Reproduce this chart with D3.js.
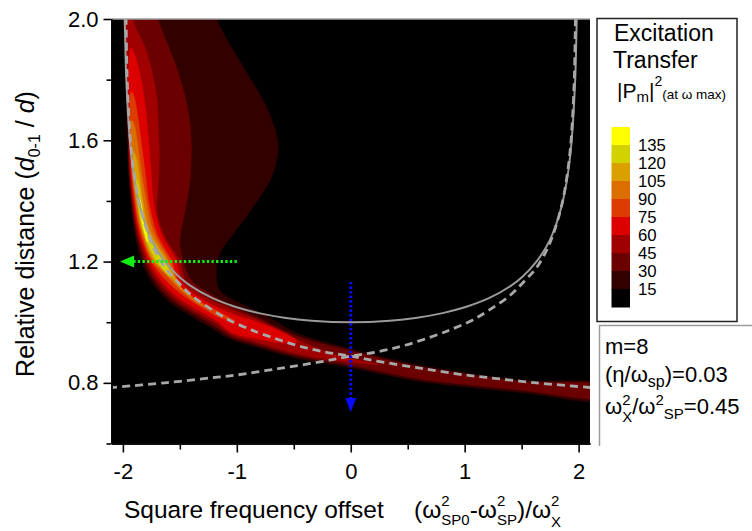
<!DOCTYPE html>
<html>
<head>
<meta charset="utf-8">
<script src="https://cdn.jsdelivr.net/npm/d3@7"></script>
<style>
  body { margin: 0; background: #fff; }
  svg { display: block; }
  text { font-family: "Liberation Sans", Arial, Helvetica, sans-serif; fill: #000; white-space: pre; }
</style>
</head>
<body>
<svg id="chart" width="752" height="531"></svg>
<script>
// ---------------- data ----------------
const xMajorTicks = [-2, -1, 0, 1, 2];
const xMinorTicks = [-1.5, -0.5, 0.5, 1.5];
const yMajorTicks = [0.8, 1.2, 1.6, 2.0];
const yMinorTicks = [0.6, 1.0, 1.4, 1.8];

// contour levels of |P_m|^2 and the fill of each band (first entry: below 15)
const levels = [15, 30, 45, 60, 75, 90, 105, 120, 135];
const bandColors = ["#000000", "#330000", "#6b0000", "#a00000", "#dc0000",
                    "#dc3c00", "#dc6e00", "#d9a000", "#d2d200", "#ffff00"];

// outlines of the regions where |P_m|^2 exceeds each level  [offset, d0-1/d]
const region15 = [
  [-2.00,2.10],[-1.995,2.00],[-1.985,1.90],[-1.975,1.80],[-1.966,1.70],[-1.958,1.60],
  [-1.950,1.50],[-1.930,1.40],[-1.897,1.30],[-1.835,1.20],[-1.74,1.13],[-1.60,1.07],
  [-1.42,1.025],[-1.24,0.985],[-1.06,0.945],[-0.89,0.925],[-0.46,0.88],[0,0.85],
  [0.6,0.805],[1.0,0.787],[1.5,0.768],[2.25,0.745],
  [2.25,0.79],[1.5,0.808],[1.0,0.833],[0.5,0.866],[0,0.912],[-0.46,0.962],[-0.74,1.02],
  [-0.975,1.063],[-1.15,1.105],[-1.18,1.16],[-1.151,1.226],[-1.034,1.29],[-0.859,1.38],
  [-0.683,1.49],[-0.639,1.59],[-0.741,1.71],[-0.946,1.843],[-1.18,2.00],[-1.26,2.10]
];
const region30 = [
  [-1.995,2.10],[-1.99,2.00],[-1.98,1.90],[-1.97,1.80],[-1.962,1.70],[-1.953,1.60],
  [-1.944,1.50],[-1.922,1.40],[-1.885,1.30],[-1.81,1.20],[-1.72,1.135],[-1.58,1.077],
  [-1.40,1.032],[-1.22,0.993],[-1.05,0.952],[-0.88,0.932],[-0.46,0.888],[0,0.858],
  [0.6,0.813],[1.0,0.795],[1.5,0.776],[2.25,0.753],
  [2.25,0.786],[1.5,0.804],[1.0,0.828],[0.5,0.86],[0,0.905],[-0.46,0.952],[-0.8,1.012],
  [-1.034,1.052],[-1.24,1.095],[-1.40,1.138],[-1.47,1.20],[-1.50,1.27],[-1.459,1.359],
  [-1.415,1.458],[-1.40,1.59],[-1.43,1.70],[-1.532,1.843],[-1.693,2.00],[-1.75,2.10]
];
const region45 = [
  [-1.99,2.10],[-1.985,2.00],[-1.975,1.90],[-1.966,1.80],[-1.957,1.70],[-1.948,1.60],
  [-1.938,1.50],[-1.914,1.40],[-1.873,1.30],[-1.79,1.20],[-1.70,1.14],[-1.56,1.083],
  [-1.38,1.038],[-1.20,1.0],[-1.04,0.958],[-0.87,0.939],[-0.46,0.895],[-0.1,0.872],
  [0.25,0.86],
  [-0.1,0.889],[-0.46,0.94],[-0.8,1.005],[-1.05,1.043],[-1.3,1.088],
  [-1.45,1.135],[-1.50,1.20],[-1.63,1.28],[-1.70,1.36],[-1.69,1.45],[-1.68,1.55],
  [-1.69,1.65],[-1.70,1.73],[-1.73,1.80],[-1.80,1.90],[-1.915,2.00],[-1.93,2.10]
];
const region60 = [
  [-1.93,1.905],[-1.947,1.85],[-1.95,1.78],[-1.949,1.70],[-1.943,1.60],[-1.932,1.50],
  [-1.905,1.40],[-1.862,1.30],[-1.77,1.20],[-1.68,1.145],[-1.54,1.09],[-1.36,1.045],
  [-1.18,1.006],[-1.04,0.965],[-0.8,0.944],[-0.6,0.932],[-0.47,0.937],
  [-0.6,0.968],[-0.8,0.998],[-1.06,1.03],[-1.3,1.075],[-1.48,1.13],[-1.53,1.20],
  [-1.66,1.29],[-1.725,1.38],[-1.75,1.48],[-1.77,1.58],[-1.80,1.70],[-1.84,1.80],[-1.89,1.875]
];
const region75 = [
  [-1.925,1.76],[-1.94,1.70],[-1.937,1.60],[-1.925,1.50],[-1.897,1.40],[-1.85,1.30],
  [-1.75,1.20],[-1.65,1.15],[-1.50,1.097],[-1.32,1.052],[-1.15,1.016],[-1.02,1.005],
  [-1.15,1.033],[-1.32,1.068],[-1.50,1.122],[-1.57,1.20],[-1.70,1.29],[-1.77,1.39],
  [-1.80,1.48],[-1.835,1.58],[-1.87,1.68],[-1.90,1.74]
];
const region90 = [
  [-1.922,1.665],[-1.93,1.60],[-1.918,1.50],[-1.888,1.40],[-1.838,1.30],[-1.735,1.20],
  [-1.62,1.155],[-1.48,1.103],[-1.33,1.06],[-1.22,1.045],
  [-1.35,1.068],[-1.50,1.118],[-1.59,1.20],[-1.735,1.30],[-1.795,1.40],[-1.84,1.50],
  [-1.875,1.60],[-1.90,1.65]
];
const region105 = [
  [-1.905,1.56],[-1.91,1.50],[-1.878,1.40],[-1.826,1.30],[-1.72,1.20],[-1.60,1.16],
  [-1.48,1.108],[-1.40,1.085],
  [-1.50,1.117],[-1.61,1.20],[-1.765,1.30],[-1.825,1.40],[-1.862,1.50],[-1.885,1.545]
];
const region120 = [
  [-1.878,1.47],[-1.868,1.40],[-1.82,1.30],[-1.70,1.20],[-1.58,1.15],
  [-1.63,1.20],[-1.785,1.30],[-1.842,1.40],[-1.862,1.45]
];
const region135 = [
  [-1.858,1.41],[-1.838,1.35],[-1.812,1.30],[-1.785,1.265],
  [-1.798,1.30],[-1.825,1.35],[-1.845,1.40]
];
const regions = [region15, region30, region45, region60, region75,
                 region90, region105, region120, region135];

// solid guide curve
const solidCurve = [
  [-1.990,2.05],[-1.984,2.00],[-1.97,1.80],[-1.939,1.60],[-1.91,1.50],[-1.862,1.40],
  [-1.781,1.30],[-1.718,1.25],[-1.63,1.20],[-1.507,1.15],[-1.405,1.12],[-1.217,1.08],
  [-1.008,1.05],[-0.806,1.03],[-0.584,1.015],[-0.343,1.005],[0,1.0],[0.343,1.005],
  [0.584,1.015],[0.806,1.03],[1.008,1.05],[1.217,1.08],[1.405,1.12],[1.507,1.15],
  [1.63,1.20],[1.718,1.25],[1.781,1.30],[1.862,1.40],[1.91,1.50],[1.939,1.60],
  [1.97,1.80],[1.984,2.00],[1.990,2.05]
];
// dashed guide curves
const dashedFalling = [
  [-1.975,2.05],[-1.972,2.00],[-1.962,1.80],[-1.934,1.60],[-1.905,1.50],[-1.86,1.40],
  [-1.795,1.31],[-1.735,1.25],[-1.635,1.182],[-1.53,1.138],[-1.40,1.089],[-1.21,1.039],
  [-1.063,1.006],[-0.887,0.977],[-0.77,0.96],[-0.477,0.924],[-0.243,0.903],[0,0.888],
  [0.255,0.87],[0.635,0.847],[1.0,0.826],[1.19,0.818],[1.63,0.80],[2.12,0.784]
];
const dashedRising = [
  [-2.12,0.784],[-1.63,0.80],[-1.19,0.818],[-1.0,0.826],[-0.635,0.847],[-0.255,0.87],
  [0,0.888],[0.243,0.903],[0.477,0.924],[0.77,0.96],[0.887,0.977],[1.063,1.006],
  [1.21,1.039],[1.40,1.089],[1.53,1.138],[1.635,1.182],[1.735,1.25],[1.795,1.31],
  [1.86,1.40],[1.905,1.50],[1.934,1.60],[1.962,1.80],[1.972,2.00],[1.975,2.05]
];

// dotted arrows: [start, tip]
const greenArrow = [[-1.0, 1.2], [-2.025, 1.2]];
const blueArrow  = [[0, 1.133], [0, 0.704]];

// ---------------- layout ----------------
const svg = d3.select("#chart");
const plot = { left: 111.5, right: 590, top: 19, bottom: 443.5 };
const x = d3.scaleLinear().domain([-2.1, 2.1]).range([plot.left, plot.right]);
const y = d3.scaleLinear().domain([0.6, 2.0]).range([plot.bottom, plot.top]);

svg.append("defs").append("clipPath").attr("id", "plotClip")
  .append("rect")
  .attr("x", plot.left).attr("y", plot.top)
  .attr("width", plot.right - plot.left).attr("height", plot.bottom - plot.top);

// plot background (values below the lowest level)
svg.append("rect")
  .attr("x", plot.left).attr("y", plot.top)
  .attr("width", plot.right - plot.left).attr("height", plot.bottom - plot.top)
  .attr("fill", bandColors[0]);

const field = svg.append("g").attr("clip-path", "url(#plotClip)");

// filled contour bands, lowest level first
const areaLine = d3.line().x(d => x(d[0])).y(d => y(d[1]))
  .curve(d3.curveCatmullRomClosed.alpha(0.5));
regions.forEach((pts, i) => {
  field.append("path")
    .attr("d", areaLine(pts))
    .attr("fill", bandColors[i + 1])
    .attr("stroke", bandColors[i + 1])
    .attr("stroke-width", 0.6);
});

// guide curves
const curveLine = d3.line().x(d => x(d[0])).y(d => y(d[1]))
  .curve(d3.curveCatmullRom.alpha(0.5));
field.append("path").attr("d", curveLine(solidCurve))
  .attr("fill", "none").attr("stroke", "#9a9a9a").attr("stroke-width", 2);
[dashedFalling, dashedRising].forEach(c => {
  field.append("path").attr("d", curveLine(c))
    .attr("fill", "none").attr("stroke", "#a8a8a8").attr("stroke-width", 2.8)
    .attr("stroke-dasharray", "8,5");
});

// dotted arrows
function drawArrow(a, color, headLen, headHalf) {
  const x0 = x(a[0][0]), y0 = y(a[0][1]);
  const x1 = x(a[1][0]), y1 = y(a[1][1]);
  const len = Math.hypot(x1 - x0, y1 - y0);
  const ux = (x1 - x0) / len, uy = (y1 - y0) / len;
  const bx = x1 - ux * headLen, by = y1 - uy * headLen;
  field.append("line")
    .attr("x1", x0).attr("y1", y0).attr("x2", bx).attr("y2", by)
    .attr("stroke", color).attr("stroke-width", 3).attr("stroke-dasharray", "2.4,2.2");
  field.append("path")
    .attr("d", `M${x1},${y1}L${bx - uy * headHalf},${by + ux * headHalf}L${bx + uy * headHalf},${by - ux * headHalf}Z`)
    .attr("fill", color);
}
drawArrow(greenArrow, "#11ee11", 14, 6);
drawArrow(blueArrow, "#0a0aff", 14, 5.5);

// top frame line
svg.append("line")
  .attr("x1", plot.left).attr("x2", plot.right).attr("y1", plot.top).attr("y2", plot.top)
  .attr("stroke", "#a0a0a0").attr("stroke-width", 1.5);

// ---------------- axes ----------------
function styleAxis(g) {
  g.select(".domain").attr("stroke", "#000").attr("stroke-width", 1.5);
  g.selectAll(".tick line").attr("stroke", "#000").attr("stroke-width", 1.6);
  g.selectAll(".tick text")
    .attr("font-family", "'Liberation Sans', Arial, sans-serif")
    .attr("font-size", 22).attr("fill", "#000");
}
svg.append("g").attr("transform", `translate(0,${plot.bottom})`)
  .call(d3.axisBottom(x).tickValues(xMinorTicks).tickSizeInner(6).tickSizeOuter(0).tickFormat(""))
  .call(styleAxis);
svg.append("g").attr("transform", `translate(0,${plot.bottom})`)
  .call(d3.axisBottom(x).tickValues(xMajorTicks).tickSizeInner(9).tickSizeOuter(0)
    .tickPadding(11).tickFormat(d => String(d)))
  .call(styleAxis);
svg.append("g").attr("transform", `translate(${plot.left},0)`)
  .call(d3.axisLeft(y).tickValues(yMinorTicks).tickSizeInner(5).tickSizeOuter(0).tickFormat(""))
  .call(styleAxis);
svg.append("g").attr("transform", `translate(${plot.left},0)`)
  .call(d3.axisLeft(y).tickValues(yMajorTicks).tickSizeInner(8).tickSizeOuter(0)
    .tickPadding(5).tickFormat(d3.format(".1f")))
  .call(styleAxis);

// ---------------- rich text helper ----------------
// parts: {t, size, dy, italic, stack}; a stacked part starts where the previous one started
function rich(parent, x0, y0, parts, baseSize) {
  let cursor = x0, prevStart = x0;
  parts.forEach(p => {
    const start = p.stack ? prevStart : cursor;
    const t = parent.append("text")
      .attr("x", start).attr("y", y0 + (p.dy || 0))
      .attr("font-size", p.size || baseSize)
      .attr("font-style", p.italic ? "italic" : null)
      .text(p.t);
    const w = t.node().getComputedTextLength();
    if (p.stack) cursor = Math.max(cursor, start + w);
    else { prevStart = start; cursor = start + w; }
  });
  return cursor;
}

// x axis title
const xt = svg.append("g");
rich(xt, 124, 518, [{ t: "Square frequency offset" }], 24.5);
rich(xt, 414, 518, [
  { t: "(ω" },
  { t: "2", size: 15, dy: -12 },
  { t: "SP0", size: 15, dy: 7, stack: true },
  { t: "-ω" },
  { t: "2", size: 15, dy: -12 },
  { t: "SP", size: 15, dy: 7, stack: true },
  { t: ")/ω" },
  { t: "2", size: 15, dy: -12 },
  { t: "X", size: 15, dy: 9, stack: true }
], 24.5);

// y axis title (rotated)
const ytOuter = svg.append("g");
const yt = ytOuter.append("g");
rich(yt, 0, 0, [
  { t: "Relative distance (" },
  { t: "d", italic: true },
  { t: "0-1", size: 16, dy: 6 },
  { t: " / " },
  { t: "d", italic: true },
  { t: ")" }
], 25);
const ytw = yt.node().getBBox().width;
ytOuter.attr("transform", `translate(34,234) rotate(-90) translate(${-ytw / 2},0)`);

// ---------------- legend ----------------
const leg = svg.append("g");
leg.append("rect")
  .attr("x", 597).attr("y", 18.5).attr("width", 140).attr("height", 303)
  .attr("fill", "#fff").attr("stroke", "#222").attr("stroke-width", 1.5);
rich(leg, 614, 41, [{ t: "Excitation" }], 23);
rich(leg, 613, 68, [{ t: "Transfer" }], 23);
rich(leg, 617, 98, [
  { t: "|P" },
  { t: "m", size: 15, dy: 4 },
  { t: "|" },
  { t: "2", size: 14, dy: -12 },
  { t: "(at ω max)", size: 13.5, dy: 1 }
], 21);

const swTop = 127, swH = 18, swX = 611.5, swW = 18.5;
// swatches from the highest band down to the one below the lowest level
const swatchOrder = bandColors.slice().reverse();
leg.selectAll("rect.sw").data(swatchOrder).enter().append("rect")
  .attr("class", "sw")
  .attr("x", swX).attr("y", (d, i) => swTop + i * swH)
  .attr("width", swW).attr("height", swH + 0.5)
  .attr("fill", d => d);
const levelLabels = levels.slice().reverse();
leg.selectAll("text.lv").data(levelLabels).enter().append("text")
  .attr("class", "lv")
  .attr("x", 638).attr("y", (d, i) => swTop + (i + 1) * swH)
  .attr("dy", "0.36em")
  .attr("font-size", 15.5)
  .attr("transform", (d, i) => `translate(638,${swTop + (i + 1) * swH}) scale(1.08,1.12) translate(-638,${-(swTop + (i + 1) * swH)})`)
  .text(d => d);

// parameter box
const pb = svg.append("g");
pb.append("path")
  .attr("d", "M760,325.5H599.5V446")
  .attr("fill", "none").attr("stroke", "#9a9a9a").attr("stroke-width", 1.5);
rich(pb, 605, 354, [{ t: "m=8" }], 22);
rich(pb, 605, 382, [
  { t: "(η/ω" },
  { t: "sp", size: 16, dy: 5 },
  { t: ")=0.03" }
], 22);
rich(pb, 605, 414, [
  { t: "ω" },
  { t: "2", size: 15, dy: -9 },
  { t: "X", size: 15, dy: 8, stack: true },
  { t: "/ω" },
  { t: "2", size: 15, dy: -9 },
  { t: "SP", size: 15, dy: 5 },
  { t: "=0.45" }
], 22);
</script>
</body>
</html>
